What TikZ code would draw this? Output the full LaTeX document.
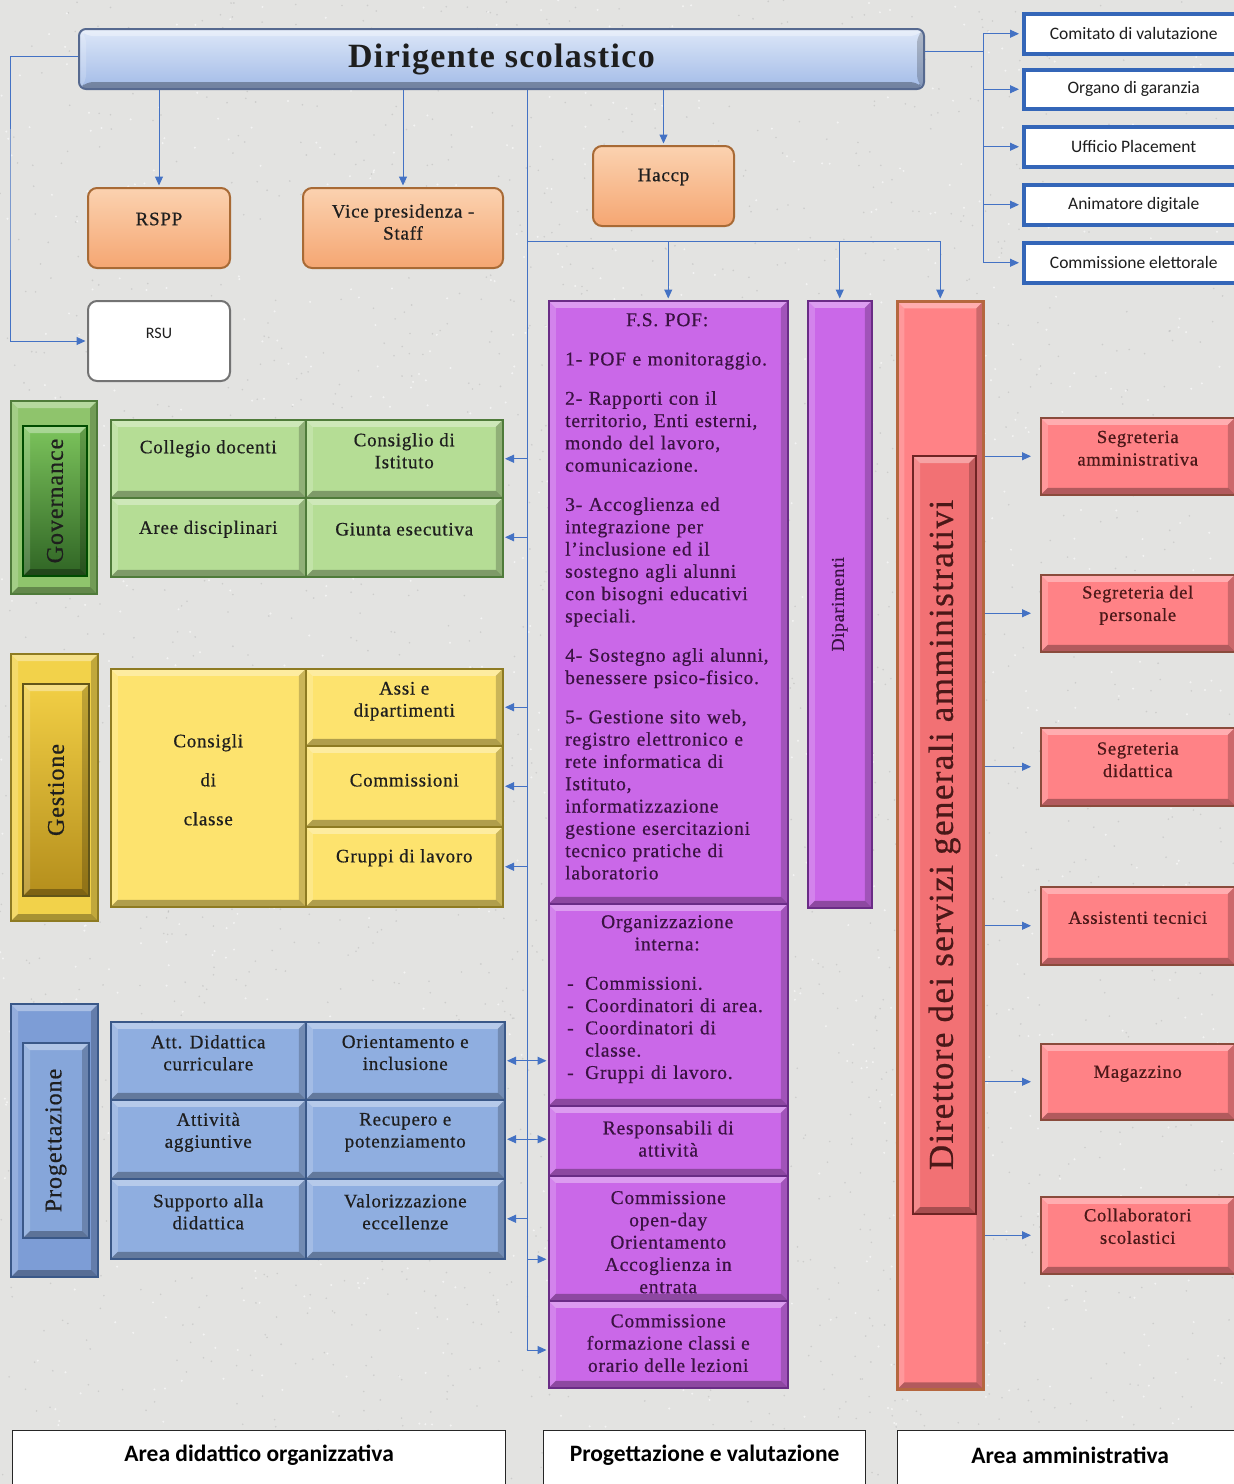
\documentclass[tikz,border=0pt]{standalone}
\usepackage{fontspec}
\setmainfont{Liberation Serif}
\newfontfamily\spf[LetterSpace=4,FakeBold=0.6]{Liberation Serif}
\newfontfamily\spd[LetterSpace=4]{Liberation Serif}
\newfontfamily\calf{Carlito}
\usetikzlibrary{arrows.meta,calc}
\definecolor{bgc}{HTML}{E3E3E1}
\definecolor{arrc}{HTML}{4472C4}
\definecolor{dirTop}{HTML}{DDE7F8}
\definecolor{dirBot}{HTML}{A2BBE7}
\definecolor{dirDraw}{HTML}{56698F}
\definecolor{oTop}{HTML}{FBD2B0}
\definecolor{oBot}{HTML}{F5A672}
\definecolor{oDraw}{HTML}{A86A35}
\definecolor{gFill}{HTML}{B5DD95}
\definecolor{gDraw}{HTML}{4F7B3A}
\definecolor{gOut}{HTML}{8FC46C}
\definecolor{gInTop}{HTML}{7CC45C}
\definecolor{gInBot}{HTML}{2F6424}
\definecolor{yFill}{HTML}{FDE36E}
\definecolor{yDraw}{HTML}{8E7B22}
\definecolor{yOut}{HTML}{F2D24A}
\definecolor{yInTop}{HTML}{F2CF45}
\definecolor{yInBot}{HTML}{B48E1C}
\definecolor{bFill}{HTML}{8FAEE0}
\definecolor{bDraw}{HTML}{3A5888}
\definecolor{bOut}{HTML}{7D9DD6}
\definecolor{bIn}{HTML}{86A6DA}
\definecolor{pFill}{HTML}{CA68E8}
\definecolor{pDraw}{HTML}{6A2C86}
\definecolor{kFill}{HTML}{FF8286}
\definecolor{kDraw}{HTML}{8A4B3C}
\definecolor{kOutDraw}{HTML}{B5673F}
\definecolor{kIn}{HTML}{F27174}
\definecolor{kInDraw}{HTML}{6E2424}
\definecolor{txtc}{HTML}{1E1E1E}
\definecolor{ptxtc}{HTML}{3A1242}
\definecolor{ktxtc}{HTML}{4A1818}
\definecolor{rboxc}{HTML}{3466B8}
\def\bv{7pt}
\newcommand\bx[9][7]{%
  \node[#7, anchor=north west, inner sep=0pt, minimum width={(#5-#3)*1pt}, minimum height={(#6-#4)*1pt}] (#2) at (#3,#4) {};
  \node[#8] (#2-t) at ([yshift=#1pt]#2.center) {#9};}
\newcommand\bxe[6]{%
  \node[#6, anchor=north west, inner sep=0pt, minimum width={(#4-#2)*1pt}, minimum height={(#5-#3)*1pt}] (#1) at (#2,#3) {};}
\begin{document}
\begin{tikzpicture}[x=1pt,y=-1pt,
  line/.style={draw=arrc, line width=1pt},
  arr/.style={line, -{Triangle[length=9pt,width=8pt]}, shorten >=1.5pt},
  darr/.style={line, {Triangle[length=9pt,width=8pt]}-{Triangle[length=9pt,width=8pt]}, shorten >=1.5pt, shorten <=1.5pt},
  bevel/.style={path picture={
    \coordinate (pnw) at (path picture bounding box.north west);
    \coordinate (pne) at (path picture bounding box.north east);
    \coordinate (psw) at (path picture bounding box.south west);
    \coordinate (pse) at (path picture bounding box.south east);
    \fill[white,opacity=.35] (pnw)--(pne)--([xshift=-\bv,yshift=-\bv]pne)--([xshift=\bv,yshift=-\bv]pnw)--cycle;
    \fill[white,opacity=.18] (pnw)--([xshift=\bv,yshift=-\bv]pnw)--([xshift=\bv,yshift=\bv]psw)--(psw)--cycle;
    \fill[black,opacity=.30] (psw)--(pse)--([xshift=-\bv,yshift=\bv]pse)--([xshift=\bv,yshift=\bv]psw)--cycle;
    \fill[black,opacity=.20] (pne)--(pse)--([xshift=-\bv,yshift=\bv]pse)--([xshift=-\bv,yshift=-\bv]pne)--cycle;
  }},
  dirst/.style={top color=dirTop, bottom color=dirBot, draw=dirDraw, line width=2pt, rounded corners=7pt, bevel},
  obox/.style={top color=oTop, bottom color=oBot, draw=oDraw, line width=2pt, rounded corners=9pt},
  wbox/.style={fill=white, draw=black!55, line width=2pt, rounded corners=9pt},
  rbox/.style={fill=white, draw=rboxc, line width=3.5pt},
  gcell/.style={fill=gFill, draw=gDraw, line width=1.5pt, bevel},
  gouter/.style={fill=gOut, draw=gDraw, line width=2pt, bevel},
  ginner/.style={top color=gInTop, bottom color=gInBot, draw=black!70!green, line width=2pt, bevel},
  ycell/.style={fill=yFill, draw=yDraw, line width=1.5pt, bevel},
  youter/.style={fill=yOut, draw=yDraw, line width=2pt, bevel},
  yinner/.style={top color=yInTop, bottom color=yInBot, draw=yDraw!70!black, line width=2pt, bevel},
  bcell/.style={fill=bFill, draw=bDraw, line width=1.5pt, bevel},
  bouter/.style={fill=bOut, draw=bDraw, line width=2pt, bevel},
  binner/.style={fill=bIn, draw=bDraw, line width=2pt, bevel},
  pcell/.style={fill=pFill, draw=pDraw, line width=1.5pt, bevel},
  kcell/.style={fill=kFill, draw=kDraw, line width=1.5pt, bevel},
  kouter/.style={fill=kFill, draw=kOutDraw, line width=2.5pt, bevel},
  kinner/.style={fill=kIn, draw=kInDraw, line width=2pt, bevel},
  lbox/.style={fill=white, draw=black!85, line width=1.2pt},
  ctxt/.style={font=\spf\fontsize{19}{22}\selectfont, text=txtc, align=center, inner sep=0pt},
  otxt/.style={font=\spf\fontsize{19}{22}\selectfont, text=txtc, align=center, inner sep=0pt},
  dtxt/.style={font=\spd\bfseries\fontsize{34}{40}\selectfont, text=txtc, inner sep=0pt},
  ctxtc/.style={font=\calf\fontsize{16}{19}\selectfont, text=txtc, inner sep=0pt},
  rtxt/.style={font=\calf\fontsize{17.5}{20}\selectfont, text=txtc, inner sep=0pt},
  ptxt/.style={font=\spf\fontsize{19.5}{22.3}\selectfont, text=ptxtc, align=center, inner sep=0pt},
  ktxt/.style={font=\spf\fontsize{18.5}{22.5}\selectfont, text=ktxtc, align=center, inner sep=0pt},
  rottxt/.style={rotate=90, font=\spf\fontsize{24}{28}\selectfont, text=txtc, inner sep=0pt},
  diptxt/.style={rotate=90, font=\spf\fontsize{18}{22}\selectfont, text=ptxtc, inner sep=0pt},
  dsgatxt/.style={rotate=90, font=\spf\fontsize{35}{40}\selectfont, text=ktxtc, inner sep=0pt},
  btxt/.style={font=\calf\bfseries\fontsize{23.5}{27}\selectfont, text=black, inner sep=0pt}
]
\useasboundingbox (0,0) rectangle (1234,1484);
\fill[bgc] (0,0) rectangle (1234,1484);
\pgfmathsetseed{7}
\foreach \i in {1,...,2200} {\fill[black!45, opacity=.25] (rnd*1234, rnd*1484) circle (0.9pt);}
\foreach \i in {1,...,1200} {\fill[white, opacity=.6] (rnd*1234, rnd*1484) circle (1.1pt);}

% top
\bx[0]{dir}{78}{28}{923}{88}{dirst}{dtxt}{Dirigente scolastico}
\bx[9]{rspp}{87}{187}{229}{267}{obox}{otxt}{RSPP}
\bx[6]{vice}{302}{187}{502}{267}{obox}{otxt}{Vice presidenza -\\Staff}
\bx[9]{hac}{592}{145}{733}{225}{obox}{otxt}{Haccp}
\bx[8]{rsu}{87}{300}{229}{380}{wbox}{ctxtc}{RSU}

% right white boxes
\bx[0]{cv}{1022}{12}{1242}{52}{rbox}{rtxt}{Comitato di valutazione}
\bx[0]{og}{1022}{68}{1242}{107}{rbox}{rtxt}{Organo di garanzia}
\bx[0]{up}{1022}{125}{1242}{165}{rbox}{rtxt}{Ufficio Placement}
\bx[0]{adg}{1022}{183}{1242}{223}{rbox}{rtxt}{Animatore digitale}
\bx[0]{ce}{1022}{241}{1242}{281}{rbox}{rtxt}{Commissione elettorale}

% governance
\bxe{govo}{10}{400}{96}{593}{gouter}
\bx[0]{govi}{22}{425}{86}{575}{ginner}{rottxt}{Governance}
\bx[10]{cd}{110}{419}{305}{497}{gcell}{ctxt}{Collegio docenti}
\bx[8]{ci}{305}{419}{502}{497}{gcell}{ctxt}{Consiglio di\\Istituto}
\bx[8]{adi}{110}{497}{305}{576}{gcell}{ctxt}{Aree disciplinari}
\bx[8]{gi}{305}{497}{502}{576}{gcell}{ctxt}{Giunta esecutiva}

% gestione
\bxe{geso}{10}{653}{97}{920}{youter}
\bx[0]{gesi}{22}{683}{88}{895}{yinner}{rottxt}{Gestione}
\bx[8]{cc}{110}{668}{305}{906}{ycell}{ctxt}{Consigli\\[17pt]di\\[17pt]classe}
\bx[6]{assi}{305}{668}{502}{745}{ycell}{ctxt}{Assi e\\dipartimenti}
\bx[6]{comm}{305}{745}{502}{826}{ycell}{ctxt}{Commissioni}
\bx[9]{grup}{305}{826}{502}{906}{ycell}{ctxt}{Gruppi di lavoro}

% progettazione
\bxe{prgo}{10}{1003}{97}{1276}{bouter}
\bx[0]{prgi}{22}{1042}{88}{1237}{binner}{rottxt}{Progettazione}
\bx[8]{att}{110}{1021}{305}{1099}{bcell}{ctxt}{Att. Didattica\\curriculare}
\bx[8]{ori}{305}{1021}{504}{1099}{bcell}{ctxt}{Orientamento e\\inclusione}
\bx[7]{atv}{110}{1099}{305}{1178}{bcell}{ctxt}{Attività\\aggiuntive}
\bx[7]{rec}{305}{1099}{504}{1178}{bcell}{ctxt}{Recupero e\\potenziamento}
\bx[7]{sup}{110}{1178}{305}{1258}{bcell}{ctxt}{Supporto alla\\didattica}
\bx[7]{val}{305}{1178}{504}{1258}{bcell}{ctxt}{Valorizzazione\\eccellenze}

% purple column
\bxe{fs}{548}{300}{787}{903}{pcell}
\node[ptxt, align=left, anchor=north west, text width=215pt] (fs-t) at (565,313) {%
\makebox[204pt]{F.S. POF:}\\[17pt]
1- POF e monitoraggio.\\[17pt]
2- Rapporti con il\\territorio, Enti esterni,\\mondo del lavoro,\\comunicazione.\\[17pt]
3- Accoglienza ed\\integrazione per\\l’inclusione ed il\\sostegno agli alunni\\con bisogni educativi\\speciali.\\[17pt]
4- Sostegno agli alunni,\\benessere psico-fisico.\\[17pt]
5- Gestione sito web,\\registro elettronico e\\rete informatica di\\Istituto,\\informatizzazione\\gestione esercitazioni\\tecnico pratiche di\\laboratorio};
\bxe{org}{548}{903}{787}{1105}{pcell}
\node[ptxt, align=left, anchor=north west, text width=215pt] (org-t) at (567,915) {%
\makebox[200pt]{Organizzazione}\\
\makebox[200pt]{interna:}\\[17pt]
\makebox[18pt][l]{-}Commissioni.\\
\makebox[18pt][l]{-}Coordinatori di area.\\
\makebox[18pt][l]{-}Coordinatori di\\
\hspace*{18pt}classe.\\
\makebox[18pt][l]{-}Gruppi di lavoro.};
\bx[2]{resp}{548}{1105}{787}{1175}{pcell}{ptxt}{Responsabili di\\attività}
\bx[-4]{open}{548}{1175}{787}{1300}{pcell}{ptxt}{Commissione\\open-day\\Orientamento\\Accoglienza in\\entrata}
\bx[1]{form}{548}{1300}{787}{1387}{pcell}{ptxt}{Commissione\\formazione classi e\\orario delle lezioni}
\bx[0]{dip}{807}{300}{871}{907}{pcell}{diptxt}{Diparimenti}

% DSGA
\bxe{dsgao}{896}{300}{982}{1388}{kouter}
\bx[0]{dsgai}{912}{455}{975}{1213}{kinner}{dsgatxt}{Direttore dei servizi generali amministrativi}
\bx[8]{sa}{1040}{417}{1234}{494}{kcell}{ktxt}{Segreteria\\amministrativa}
\bx[8]{sp}{1040}{574}{1234}{651}{kcell}{ktxt}{Segreteria del\\personale}
\bx[7]{sd}{1040}{727}{1234}{805}{kcell}{ktxt}{Segreteria\\didattica}
\bx[8]{ast}{1040}{886}{1234}{964}{kcell}{ktxt}{Assistenti tecnici}
\bx[8]{mag}{1040}{1043}{1234}{1119}{kcell}{ktxt}{Magazzino}
\bx[9]{cs}{1040}{1196}{1234}{1273}{kcell}{ktxt}{Collaboratori\\scolastici}

% bottom labels
\bx[10]{bl1}{12}{1430}{505}{1500}{lbox}{btxt}{Area didattico organizzativa}
\bx[10]{bl2}{543}{1430}{865}{1500}{lbox}{btxt}{Progettazione e valutazione}
\bx[10]{bl3}{897}{1430}{1242}{1500}{lbox}{btxt}{Area amministrativa}

% connectors
\coordinate (trk) at (527,1350);
\coordinate (hb) at (527,241);
\coordinate (rv) at (983,150);
\coordinate (lft) at (10,200);
\coordinate (oa) at ([yshift=-21pt]open.west);
\draw[arr] (dir.south -| rspp.north) -- (rspp.north);
\draw[arr] (dir.south -| vice.north) -- (vice.north);
\draw[arr] (dir.south -| hac.north) -- (hac.north);
\draw[arr] ([yshift=3pt]dir.west) -| (lft) |- (rsu.west);
\draw[line] (dir.south -| trk) -- (trk);
\draw[line] (hb) -- (hb -| dsgao.north);
\draw[arr] (hb -| fs.north) -- (fs.north);
\draw[arr] (hb -| dip.north) -- (dip.north);
\draw[arr] (hb -| dsgao.north) -- (dsgao.north);
\foreach \n in {ci,gi,assi,comm,grup,val} \draw[arr] (trk |- \n.east) -- (\n.east);
\draw[darr] (ori.east) -- (ori.east -| org.west);
\draw[darr] (rec.east) -- (rec.east -| resp.west);
\draw[arr] (trk |- oa) -- (oa);
\draw[arr] (trk) -- (trk -| form.west);
\draw[line] ([yshift=8pt]dir.east) -- ([yshift=8pt]dir.east -| rv);
\draw[line] (rv |- cv.west) -- (rv |- ce.west);
\foreach \n in {cv,og,up,adg,ce} \draw[arr, shorten >=3pt] (rv |- \n.west) -- (\n.west);
\foreach \n in {sa,sp,sd,ast,mag,cs} \draw[arr, shorten >=9pt] (dsgao.east |- \n.west) -- (\n.west);
\end{tikzpicture}
\end{document}
